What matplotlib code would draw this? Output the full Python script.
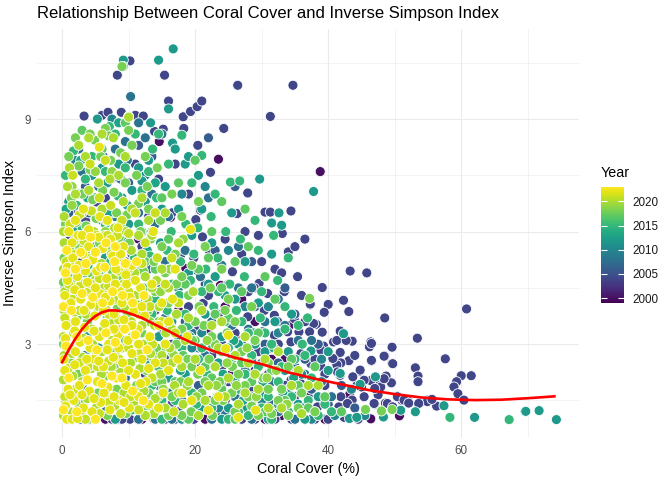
import numpy as np
import matplotlib.pyplot as plt
from matplotlib.colors import Normalize
from matplotlib.colorbar import ColorbarBase

plt.rcParams['font.family'] = ['Liberation Sans', 'DejaVu Sans']

# points, grouped by survey year: (coral cover %, inverse simpson)
pts_2000 = [(23.5, 7.93), (38.8, 7.6), (14.6, 8.4), (8.0, 7.45), (16.3, 6.38), (18.6, 5.02),
            (23.8, 4.57), (46.4, 1.01), (50.7, 1.09), (43.2, 1.65), (28.0, 2.9), (25.5, 2.2),
            (33.0, 1.1), (36.4, 1.8), (30.5, 1.0), (20.2, 2.4), (17.5, 3.9), (22.0, 3.4),
            (27.0, 4.2), (13.0, 3.6), (31.5, 2.6), (39.5, 1.0), (10.5, 6.6), (34.2, 3.5),
            (12.0, 1.0), (6.5, 1.0), (21.5, 1.0), (29.0, 3.6), (24.5, 1.5), (19.0, 3.0),
            (14.0, 2.6), (21.0, 1.4), (26.0, 3.2), (33.5, 2.6), (36.0, 3.0), (28.5, 1.5),
            (18.0, 1.0), (24.5, 4.0), (11.5, 5.8), (8.5, 1.0)]

pts_2004 = [(3.3, 9.08), (6.0, 9.1), (6.9, 9.18), (8.9, 9.18), (11.0, 9.1), (12.2, 9.08),
            (8.3, 10.17), (10.2, 10.55), (15.4, 10.17), (16.0, 9.48), (18.2, 9.06), (19.3, 9.2),
            (20.3, 9.33), (21.0, 9.48), (26.4, 9.9), (34.7, 9.9), (31.3, 9.07), (24.3, 8.75),
            (13.9, 8.67), (15.2, 8.73), (18.3, 8.75), (20.4, 8.3), (22.3, 7.58), (27.9, 7.03),
            (30.5, 6.52), (31.3, 6.52), (34.4, 6.55), (33.1, 5.95), (43.3, 4.95), (45.8, 4.9),
            (39.1, 4.51), (42.3, 4.17), (40.0, 4.06), (43.1, 3.87), (39.4, 3.85), (37.3, 4.05),
            (48.5, 3.7), (60.8, 3.94), (53.4, 3.16), (57.6, 2.61), (38.2, 3.53), (39.1, 3.32),
            (41.8, 3.35), (43.6, 3.08), (40.8, 3.06), (39.3, 2.95), (46.4, 3.06), (46.2, 2.93),
            (49.6, 2.92), (48.5, 2.69), (46.5, 2.55), (49.6, 2.49), (41.2, 2.62), (43.1, 2.56),
            (41.9, 2.5), (38.9, 2.41), (44.8, 2.28), (48.7, 2.15), (49.5, 1.97), (53.1, 2.37),
            (53.5, 2.15), (53.5, 2.0), (60.0, 2.16), (61.5, 2.16), (59.3, 2.0), (58.9, 1.86),
            (59.5, 1.68), (60.4, 1.51), (56.3, 1.35), (53.8, 1.43), (52.0, 1.48), (50.5, 1.6),
            (51.1, 1.5), (55.0, 1.51), (48.6, 1.43), (47.0, 1.4), (47.5, 1.65), (45.0, 1.86),
            (41.6, 1.33), (43.6, 1.51), (45.4, 1.6), (46.9, 1.42), (48.9, 1.42), (50.4, 1.6),
            (51.4, 1.51), (52.1, 1.43), (41.9, 1.6), (44.3, 1.9), (47.5, 1.9), (41.8, 2.17),
            (41.3, 2.45), (44.8, 2.31), (41.8, 2.78), (41.3, 3.1), (46.4, 2.03), (47.9, 1.86),
            (54.9, 1.47), (55.6, 1.53), (53.6, 1.42), (42.4, 1.05), (35.4, 4.8), (34.0, 5.46),
            (29.6, 4.62), (28.9, 4.5), (30.9, 4.35), (33.4, 4.4), (37.3, 4.07), (37.8, 3.55),
            (34.9, 3.68), (33.9, 3.33), (35.6, 3.33), (37.2, 3.33), (30.4, 3.9), (31.9, 3.77),
            (32.4, 3.6), (27.9, 3.73), (30.1, 3.33), (31.9, 3.24), (31.1, 2.88), (34.4, 3.06),
            (35.9, 2.75), (38.9, 2.84), (40.7, 2.62), (37.4, 2.48), (42.7, 3.1), (46.5, 3.02),
            (46.5, 2.57), (48.4, 2.68), (49.7, 2.48), (41.4, 2.26), (43.7, 2.13), (45.4, 2.04),
            (48.4, 2.08), (47.0, 1.82), (34.4, 2.04), (35.9, 1.95), (33.9, 1.51), (35.9, 1.24),
            (38.4, 1.33), (41.4, 1.15), (42.9, 1.42), (49.7, 1.33), (32.9, 1.28), (28.4, 1.77),
            (30.9, 1.82), (26.8, 1.24), (23.8, 1.06), (5.2, 6.79), (7.5, 7.42), (2.2, 7.02),
            (20.1, 6.32), (20.8, 6.57), (16.5, 6.5), (26.3, 6.48), (21.1, 5.86), (22.1, 5.5),
            (20.3, 4.97), (25.6, 4.93), (0.45, 4.53), (4.2, 1.0), (10.2, 1.0), (17.8, 5.37),
            (19.8, 5.3), (21.2, 4.09), (23.0, 3.0), (1.2, 5.87), (13.8, 1.0), (19.8, 1.0),
            (27.0, 1.0), (34.5, 1.0), (38.0, 1.0), (15.0, 3.3), (18.0, 2.0), (24.0, 2.4),
            (26.0, 3.3), (29.0, 2.3), (32.0, 5.0), (36.5, 5.8), (24.5, 5.8), (9.5, 5.2),
            (27.0, 5.4), (29.5, 5.9), (36.0, 4.3), (13.0, 6.4), (3.5, 6.3), (16.5, 1.4),
            (22.5, 2.7), (37.0, 1.6), (39.5, 1.9), (44.0, 2.7), (28.0, 1.1), (31.0, 1.55),
            (12.5, 2.2), (14.0, 3.9), (16.0, 2.6), (17.5, 1.2), (19.0, 4.0), (20.5, 3.4),
            (22.0, 1.5), (23.5, 3.8), (25.0, 2.0), (26.5, 2.6), (28.0, 4.4), (29.5, 2.8),
            (31.0, 2.2), (32.5, 3.0), (33.5, 1.9), (35.0, 1.6), (36.5, 3.6), (38.0, 2.6),
            (39.5, 2.2), (40.5, 1.2), (22.0, 4.3), (25.0, 4.6), (27.5, 6.0), (30.0, 5.2),
            (33.0, 4.9), (35.0, 5.6), (11.0, 7.8), (14.5, 7.4), (17.0, 7.8), (19.0, 7.0),
            (12.0, 5.6), (2.0, 6.6), (0.5, 5.3), (6.5, 6.9), (3.0, 5.2), (25.5, 1.05),
            (29.0, 1.0), (32.0, 1.0), (36.5, 1.0), (40.0, 1.0), (44.5, 1.0), (7.5, 1.0),
            (15.5, 1.0), (9.0, 1.0), (17.0, 1.0)]

pts_2006 = [(13.5, 2.9), (15.0, 4.5), (16.5, 3.0), (18.5, 3.6), (20.5, 1.9), (21.5, 4.6),
            (23.0, 5.5), (24.0, 3.0), (25.5, 2.5), (27.0, 3.0), (28.0, 1.4), (29.0, 4.0),
            (30.5, 3.0), (31.5, 1.4), (32.5, 2.5), (33.5, 4.5), (35.0, 3.8), (36.5, 2.6),
            (37.5, 1.8), (38.5, 3.0), (40.0, 1.4), (42.0, 1.9), (44.0, 1.3), (10.0, 7.3),
            (13.5, 8.0), (3.5, 7.2), (1.0, 6.5), (6.5, 7.9), (11.5, 8.3), (26.0, 7.2),
            (28.5, 5.2), (22.0, 8.5)]

pts_2008 = [(2.5, 5.5), (4.0, 6.5), (5.5, 7.2), (7.0, 6.0), (8.8, 7.4), (10.5, 4.0),
            (12.0, 6.0), (13.5, 7.0), (14.5, 4.6), (16.0, 6.4), (17.0, 2.6), (18.5, 5.5),
            (19.5, 3.3), (20.8, 4.8), (22.0, 6.9), (23.0, 2.0), (24.0, 5.1), (25.5, 3.5),
            (26.5, 5.6), (27.5, 2.3), (28.5, 4.5), (29.5, 1.2), (30.5, 3.6), (31.5, 2.0),
            (32.5, 4.2), (34.0, 1.5), (35.5, 3.1), (36.5, 2.2), (38.0, 1.2), (40.5, 1.6),
            (3.0, 1.9), (6.5, 1.2), (9.5, 2.1), (12.5, 1.3), (14.5, 1.9), (0.8, 1.0),
            (2.7, 1.0), (8.0, 8.2), (11.5, 8.9), (15.0, 8.6), (10.3, 9.6), (5.0, 1.0),
            (11.5, 1.0), (16.5, 1.0), (1.7, 6.06), (3.0, 7.6), (6.2, 8.0), (9.8, 7.9),
            (15.5, 5.2), (17.5, 4.1), (21.5, 2.7), (24.5, 1.2), (26.5, 4.5), (13.0, 5.0),
            (13.0, 2.6), (15.5, 3.7), (18.0, 1.5), (20.5, 2.9), (22.5, 3.6), (24.5, 2.8),
            (26.0, 1.6), (28.0, 3.4), (30.0, 2.5), (32.5, 1.2), (33.5, 3.5), (35.0, 2.4),
            (37.5, 3.1), (39.0, 2.0), (3.5, 5.8), (6.0, 5.0), (8.0, 6.4), (10.5, 5.4),
            (11.5, 6.5), (14.0, 6.2), (1.5, 4.5), (0.5, 3.0), (2.5, 8.2), (7.0, 8.7),
            (9.5, 8.4), (12.5, 8.5), (14.0, 1.0), (22.5, 1.0), (28.5, 1.0), (35.0, 1.0)]

pts_2010 = [(1.0, 2.2), (3.5, 2.7), (14.5, 2.7), (16.0, 1.7), (17.5, 4.5), (19.5, 2.9),
            (21.0, 3.3), (23.5, 1.3), (25.0, 5.5), (27.5, 4.0), (28.5, 2.6), (30.0, 1.5),
            (31.0, 4.0), (32.5, 3.3), (34.0, 1.8), (36.0, 2.2), (37.5, 1.0), (39.0, 2.6),
            (41.0, 1.1), (43.5, 1.8), (45.5, 1.1), (6.0, 6.3), (9.0, 6.9), (12.5, 7.5),
            (2.0, 7.9), (18.0, 7.0), (21.5, 7.2), (7.5, 9.0)]

pts_2012 = [(1.5, 1.6), (3.5, 2.1), (5.5, 2.9), (6.5, 5.3), (8.5, 4.6), (10.0, 6.2),
            (11.5, 5.0), (12.5, 6.8), (13.5, 3.0), (14.8, 5.7), (15.5, 7.2), (16.5, 3.6),
            (17.5, 6.6), (18.5, 2.2), (19.0, 4.9), (20.5, 7.5), (21.5, 3.8), (22.5, 5.7),
            (23.5, 2.5), (24.5, 4.3), (25.5, 6.5), (26.5, 3.0), (27.5, 5.2), (28.5, 1.6),
            (29.5, 4.1), (30.5, 2.8), (31.5, 5.4), (31.5, 6.23), (33.0, 6.17), (32.6, 6.5),
            (37.8, 7.07), (29.7, 7.4), (13.3, 8.9), (16.6, 8.36), (16.0, 9.27), (14.5, 10.57),
            (16.7, 10.87), (9.2, 10.57), (5.3, 9.0), (33.5, 2.3), (34.5, 3.8), (36.0, 1.8),
            (37.4, 2.82), (40.0, 2.8), (42.3, 3.28), (41.8, 2.22), (47.1, 2.13), (44.8, 1.93),
            (43.2, 1.02), (44.3, 1.05), (48.3, 1.06), (50.9, 1.24), (53.1, 1.2), (57.4, 1.36),
            (62.0, 1.05), (69.6, 1.21), (69.7, 1.21), (71.7, 1.23), (74.3, 0.99), (2.2, 6.1),
            (4.5, 7.5), (6.0, 7.7), (11.5, 7.7), (13.0, 7.9), (12.0, 7.35), (18.5, 7.8),
            (16.0, 5.0), (19.5, 5.9), (21.0, 6.6), (23.0, 4.8), (8.0, 1.0), (18.0, 1.0),
            (24.0, 1.0), (31.0, 1.0), (36.5, 1.0), (20.0, 1.6), (26.0, 2.0), (12.5, 4.2),
            (9.0, 5.8), (3.5, 4.9), (1.0, 6.8), (7.5, 6.5), (25.0, 1.3), (32.5, 1.4),
            (12.5, 1.6), (14.5, 3.2), (16.0, 2.1), (17.5, 3.2), (19.5, 2.5), (21.0, 1.3),
            (22.0, 4.6), (24.0, 3.2), (26.0, 4.2), (27.5, 1.3), (29.0, 3.0), (30.5, 1.7),
            (32.0, 3.6), (34.0, 2.8), (35.5, 1.4), (38.5, 1.6), (40.0, 2.3), (0.5, 6.0),
            (2.5, 7.0), (5.0, 5.6), (6.8, 7.3), (8.5, 7.8), (10.5, 7.1), (13.5, 6.0),
            (15.0, 6.6), (17.0, 8.2), (19.0, 8.0), (1.0, 4.0), (4.0, 3.3)]

pts_2013 = [(13.2, 2.45), (15.8, 1.25), (17.8, 2.3), (19.2, 3.2), (21.2, 2.2), (22.8, 2.9),
            (24.2, 2.2), (25.8, 3.1), (27.2, 1.5), (28.8, 3.3), (30.2, 2.0), (31.8, 2.9),
            (33.2, 1.7), (34.8, 2.1), (36.2, 1.3), (0.6, 6.6), (3.8, 6.9), (7.0, 6.5),
            (9.8, 6.7), (12.8, 5.5), (14.0, 7.3), (2.8, 7.9), (8.5, 8.9)]

pts_2015 = [(2.0, 1.2), (4.8, 1.1), (7.5, 1.5), (10.5, 1.25), (13.5, 1.9), (15.0, 1.0),
            (17.0, 1.5), (18.5, 1.05), (20.2, 1.4), (21.8, 2.2), (23.3, 1.6), (25.0, 1.0),
            (26.6, 1.8), (28.0, 1.1), (29.5, 2.4), (31.0, 1.6), (32.5, 2.0), (34.0, 1.2),
            (36.5, 2.7), (37.0, 1.5), (39.5, 1.4), (2.8, 4.3), (6.0, 4.4), (9.5, 4.5),
            (12.2, 4.5), (14.0, 4.2), (15.8, 3.9), (17.6, 4.3), (19.3, 4.7), (21.0, 4.4),
            (22.8, 4.0), (24.5, 3.6), (26.2, 3.9), (28.0, 3.3), (29.8, 3.7), (31.5, 3.0),
            (33.5, 3.4), (35.0, 2.6), (1.0, 5.0), (3.9, 5.1), (7.3, 5.2), (10.9, 5.3),
            (13.2, 5.35), (15.8, 5.5), (17.8, 5.2), (19.8, 5.4), (21.6, 5.0), (23.4, 5.3),
            (25.2, 4.6), (27.4, 4.8), (30.0, 4.4), (32.4, 4.7), (36.9, 3.7), (2.2, 6.7),
            (5.0, 6.9), (8.4, 6.95), (12.0, 7.1), (14.2, 6.9), (16.4, 6.0), (18.6, 6.2),
            (20.4, 6.1), (22.4, 6.4), (24.6, 6.0), (26.8, 5.8), (29.5, 5.5), (31.8, 5.9),
            (34.0, 5.3), (1.7, 8.15), (4.5, 8.0), (7.1, 8.8), (9.2, 10.4), (11.0, 8.6),
            (13.6, 8.2), (16.0, 7.8), (18.0, 8.57), (21.0, 8.03), (25.3, 7.32), (26.7, 7.35),
            (19.5, 7.3), (23.0, 7.0), (29.0, 6.3), (33.5, 4.0), (36.1, 3.0), (58.3, 1.05),
            (67.2, 0.99), (16.5, 2.8), (19.0, 3.5), (22.5, 3.0), (25.5, 2.6), (27.5, 2.2),
            (30.0, 1.3), (14.5, 2.4), (18.0, 2.9), (24.0, 2.0), (20.5, 2.6), (11.5, 3.4),
            (12.5, 3.0), (13.5, 3.8), (15.0, 1.5), (16.5, 4.6), (18.5, 3.8), (19.5, 1.7),
            (21.0, 2.9), (22.5, 1.3), (23.5, 4.4), (25.0, 2.9), (26.5, 1.2), (27.0, 3.6),
            (28.5, 2.7), (30.5, 3.3), (31.5, 1.0), (33.0, 2.4), (34.5, 1.6), (35.5, 3.5),
            (37.5, 2.1), (38.5, 1.1), (40.5, 1.2), (3.0, 6.1), (6.5, 6.2), (9.0, 6.4),
            (11.5, 6.2), (0.5, 7.5), (3.5, 7.4), (6.5, 7.6), (9.5, 7.7), (13.0, 7.6),
            (14.5, 8.6), (8.0, 8.6), (2.0, 5.7), (5.5, 4.9), (10.0, 4.7)]

pts_2017 = [(13.0, 1.3), (14.0, 2.0), (15.5, 2.9), (17.0, 2.0), (18.2, 2.7), (19.0, 1.0),
            (20.0, 3.1), (21.5, 2.4), (22.5, 2.1), (23.0, 3.8), (24.0, 1.8), (25.0, 3.7),
            (26.0, 1.0), (27.0, 2.5), (27.0, 4.4), (28.5, 2.0), (29.5, 3.3), (30.5, 1.2),
            (31.5, 2.3), (32.0, 4.2), (33.5, 1.5), (34.5, 2.6), (35.5, 1.9), (37.0, 1.3),
            (38.0, 2.4), (39.5, 1.6), (42.0, 1.2), (14.0, 5.0), (16.0, 5.8), (18.5, 4.6),
            (20.5, 5.0), (22.0, 5.3), (24.0, 4.5), (26.0, 5.2), (28.0, 5.6), (30.5, 4.8),
            (12.5, 5.2), (11.0, 4.0), (9.5, 3.1), (8.0, 2.4), (15.0, 6.9), (17.5, 7.3),
            (20.0, 7.9), (22.5, 6.0), (24.0, 6.8), (27.5, 6.6), (3.0, 8.7), (6.0, 8.2),
            (9.5, 8.9)]

pts_2018 = [(1.0, 1.05), (2.5, 1.4), (4.0, 1.0), (5.4, 1.7), (6.8, 1.1), (8.2, 1.8),
            (9.6, 1.15), (11.2, 1.9), (12.8, 1.1), (14.4, 1.6), (16.0, 1.1), (17.8, 2.0),
            (19.4, 1.2), (21.0, 1.7), (22.6, 1.1), (24.2, 1.5), (26.0, 1.2), (28.5, 1.35),
            (31.5, 1.15), (35.5, 1.3), (38.0, 1.2), (1.3, 2.5), (2.4, 2.2), (3.9, 2.6),
            (5.2, 2.75), (6.6, 2.15), (8.0, 2.8), (9.4, 2.45), (11.1, 2.65), (12.7, 2.3),
            (14.2, 2.9), (15.7, 2.45), (17.2, 3.0), (18.9, 2.6), (20.4, 2.2), (22.1, 2.6),
            (23.7, 2.0), (25.6, 2.4), (27.5, 1.9), (30.2, 2.1), (33.0, 1.8), (0.9, 3.55),
            (2.3, 3.75), (3.8, 3.6), (5.4, 3.85), (6.8, 3.7), (8.3, 3.95), (9.8, 3.8),
            (11.3, 4.05), (12.9, 3.9), (14.5, 3.6), (16.2, 3.5), (18.0, 3.4), (19.6, 3.1),
            (21.3, 3.5), (23.0, 3.0), (24.8, 3.3), (27.0, 2.8), (0.2, 4.65), (1.6, 4.75),
            (3.1, 4.6), (4.5, 4.85), (6.0, 4.7), (7.5, 4.95), (9.0, 4.8), (10.6, 5.1),
            (12.2, 4.95), (13.8, 5.2), (15.5, 4.9), (17.2, 4.6), (19.0, 4.3), (20.6, 4.0),
            (22.3, 4.5), (24.5, 3.9), (1.1, 5.55), (2.6, 5.6), (4.1, 5.45), (5.6, 5.7),
            (7.1, 5.6), (8.6, 5.85), (10.1, 5.7), (11.8, 6.0), (13.3, 5.8), (15.0, 5.6),
            (17.0, 5.4), (19.5, 5.1), (21.5, 5.6), (24.0, 5.0), (0.5, 6.2), (2.1, 6.25),
            (3.6, 6.15), (5.1, 6.35), (6.6, 6.3), (8.2, 6.5), (9.8, 6.45), (11.5, 6.75),
            (13.0, 6.6), (14.8, 6.3), (16.5, 7.0), (18.0, 6.4), (20.5, 6.8), (1.4, 6.9),
            (3.0, 7.0), (4.6, 6.85), (6.1, 7.1), (7.8, 7.05), (9.5, 7.3), (11.2, 7.5),
            (12.8, 7.2), (14.3, 7.7), (2.5, 7.75), (4.2, 7.65), (5.8, 8.0), (7.3, 7.9),
            (8.8, 8.1), (10.5, 8.3), (12.5, 8.0), (4.9, 8.44), (4.2, 8.6), (6.5, 8.75),
            (7.0, 8.55), (9.0, 10.4), (10.0, 9.07), (45.6, 1.26), (48.0, 1.22), (49.6, 1.26),
            (37.2, 4.22), (29.0, 3.1), (31.0, 2.5), (26.0, 3.6), (28.5, 4.0), (34.0, 2.4),
            (13.0, 1.7), (15.0, 2.0), (16.5, 1.6), (18.0, 1.1), (19.5, 2.4), (21.5, 2.0),
            (23.0, 1.5), (24.0, 2.8), (25.5, 1.7), (26.5, 2.2), (28.0, 1.6), (29.5, 1.1),
            (31.0, 1.8), (32.5, 1.5), (34.0, 1.1), (36.0, 1.7), (20.0, 3.6), (22.5, 3.2),
            (25.0, 4.2), (18.0, 4.8), (16.0, 4.1), (14.0, 4.4), (12.0, 3.3), (0.5, 1.5),
            (3.5, 1.5), (0.2, 3.0), (0.3, 5.3), (2.0, 8.5), (10.0, 8.7), (1.0, 8.0)]

pts_2019 = [(13.8, 2.6), (15.2, 1.8), (16.8, 2.7), (18.8, 1.9), (20.2, 1.6), (21.8, 3.1),
            (23.2, 1.9), (24.8, 2.5), (26.2, 1.9), (27.8, 2.9), (29.2, 1.6), (30.8, 2.1),
            (32.2, 2.3), (33.8, 1.4), (13.2, 3.6), (14.8, 4.4), (16.2, 5.0), (18.2, 5.8),
            (1.5, 6.7), (3.8, 6.0), (6.5, 6.0), (8.8, 6.2), (1.5, 7.2), (5.0, 7.6),
            (7.5, 7.6)]

pts_2020 = [(0.2, 1.1), (1.2, 1.2), (2.9, 1.1), (3.8, 1.55), (5.1, 1.3), (6.5, 1.6),
            (7.9, 1.35), (9.3, 1.7), (10.8, 1.45), (12.3, 1.75), (13.8, 1.15), (15.5, 1.3),
            (16.9, 1.9), (18.2, 1.4), (0.2, 2.05), (1.6, 2.15), (3.0, 2.0), (4.4, 2.35),
            (5.9, 2.2), (7.4, 2.4), (8.8, 2.25), (10.3, 2.5), (11.7, 2.35), (13.3, 2.75),
            (14.8, 2.2), (16.2, 2.9), (18.0, 2.4), (0.3, 2.7), (1.5, 2.75), (3.1, 2.65),
            (4.6, 3.0), (6.0, 2.8), (7.5, 3.1), (9.0, 2.9), (10.5, 3.2), (12.1, 3.0),
            (13.9, 3.5), (15.6, 3.3), (17.2, 3.8), (0.2, 3.2), (1.7, 3.3), (3.2, 3.15),
            (4.5, 3.4), (6.0, 3.35), (7.4, 3.55), (8.9, 3.4), (10.4, 3.6), (12.0, 3.5),
            (14.6, 4.0), (0.3, 3.9), (1.9, 3.85), (3.6, 3.8), (5.0, 4.1), (6.5, 3.95),
            (8.0, 4.2), (9.5, 4.0), (11.0, 4.3), (12.8, 4.2), (14.2, 4.7), (16.0, 4.5),
            (0.4, 4.4), (1.9, 4.5), (3.3, 4.4), (4.9, 4.7), (6.3, 4.5), (7.7, 4.75),
            (9.2, 4.6), (10.9, 4.9), (12.5, 4.8), (0.2, 5.0), (1.5, 5.1), (3.0, 4.95),
            (4.4, 5.3), (5.9, 5.15), (7.4, 5.4), (8.9, 5.25), (10.4, 5.5), (12.0, 5.4),
            (13.5, 5.9), (0.3, 5.7), (1.8, 5.75), (3.4, 5.6), (4.8, 6.0), (6.4, 5.9),
            (7.9, 6.1), (9.6, 6.0), (0.3, 6.4), (3.0, 6.5), (6.0, 6.6), (9.2, 6.8),
            (0.8, 7.2), (4.0, 7.1), (7.2, 7.4), (1.1, 7.7), (3.5, 8.0), (7.7, 8.5),
            (10.0, 9.05), (14.0, 1.55), (16.5, 2.5), (19.0, 2.0), (20.5, 1.1), (22.0, 1.9),
            (23.5, 2.9), (25.0, 2.1), (26.5, 1.4), (28.0, 2.5), (29.5, 1.8), (31.0, 1.3),
            (32.5, 2.8), (34.5, 1.9), (36.0, 1.15), (38.5, 1.9), (24.0, 3.6), (27.5, 3.2),
            (21.0, 3.9), (19.7, 4.4), (17.5, 5.7), (12.5, 1.1), (15.0, 2.7), (17.5, 1.7),
            (18.5, 3.1), (20.0, 2.6), (21.5, 1.5), (23.0, 2.4), (24.5, 1.6), (26.0, 2.7),
            (27.5, 1.7), (29.0, 2.2), (30.5, 2.6), (33.0, 1.3), (35.5, 2.3), (37.0, 1.9),
            (13.5, 4.5), (15.0, 5.0), (16.5, 3.4), (19.0, 3.7), (22.5, 3.5), (11.5, 5.9),
            (13.0, 6.3), (10.5, 6.6), (12.0, 6.9), (2.0, 7.0), (5.5, 7.3), (8.5, 7.5),
            (2.5, 8.3), (6.0, 8.6), (4.0, 8.5), (15.5, 6.5), (9.5, 8.0), (0.2, 6.0)]

pts_2021 = [(0.4, 1.6), (2.0, 1.8), (3.5, 1.0), (5.6, 1.15), (7.0, 1.45), (8.8, 1.15),
            (10.3, 1.6), (11.5, 1.25), (13.5, 2.1), (15.2, 2.5), (16.8, 1.2), (0.9, 2.35),
            (2.6, 2.5), (4.0, 2.4), (5.3, 2.4), (7.0, 2.55), (8.6, 2.6), (10.0, 2.9),
            (11.6, 2.75), (13.6, 3.0), (15.0, 3.6), (17.0, 3.3), (0.4, 3.7), (1.5, 4.2),
            (2.6, 3.9), (4.0, 4.4), (5.5, 4.0), (7.0, 3.8), (8.5, 3.65), (10.0, 4.4),
            (11.6, 3.8), (13.2, 4.0), (15.5, 4.6), (17.5, 4.1), (1.0, 4.6), (2.7, 4.55),
            (4.4, 4.6), (5.6, 4.75), (7.0, 4.55), (8.5, 4.95), (10.0, 5.0), (12.0, 5.15),
            (14.3, 5.3), (16.5, 5.3), (0.6, 5.2), (2.0, 5.4), (3.3, 5.75), (5.2, 5.9),
            (6.8, 5.9), (8.3, 5.9), (10.0, 5.95), (12.5, 5.7), (14.0, 6.5), (1.2, 6.2),
            (2.6, 6.45), (4.4, 6.55), (5.6, 6.9), (7.3, 6.7), (9.0, 6.3), (11.0, 6.5),
            (1.6, 7.5), (4.2, 7.8), (6.5, 7.9)]

pts_2022 = [(0.7, 1.0), (1.5, 1.0), (2.3, 1.02), (0.5, 1.35), (1.8, 1.5), (3.2, 1.3),
            (4.5, 1.2), (5.8, 1.45), (7.2, 1.25), (8.6, 1.5), (10.1, 1.3), (11.5, 1.6),
            (13.0, 1.4), (0.9, 1.8), (2.6, 1.9), (4.1, 1.75), (5.3, 2.0), (6.9, 1.85),
            (8.2, 2.1), (9.6, 1.9), (11.0, 2.2), (12.6, 2.0), (0.4, 2.3), (1.9, 2.45),
            (3.5, 2.3), (4.8, 2.6), (6.2, 2.4), (7.7, 2.65), (9.1, 2.5), (10.5, 2.75),
            (12.0, 2.6), (14.0, 2.5), (1.1, 2.9), (2.7, 3.05), (4.2, 2.9), (5.6, 3.2),
            (7.0, 3.0), (8.4, 3.25), (9.9, 3.1), (11.4, 3.4), (13.2, 3.2), (0.6, 3.5),
            (2.0, 3.6), (3.4, 3.45), (4.9, 3.75), (6.4, 3.55), (7.8, 3.8), (9.3, 3.65),
            (10.8, 3.9), (12.4, 3.75), (1.3, 4.1), (2.8, 4.2), (4.3, 4.05), (5.7, 4.35),
            (7.2, 4.15), (8.7, 4.4), (10.2, 4.25), (11.8, 4.5), (0.8, 4.7), (2.3, 4.8),
            (3.8, 4.65), (5.2, 4.95), (6.7, 4.75), (8.1, 5.0), (9.6, 4.85), (1.6, 5.3),
            (3.1, 5.4), (4.6, 5.25), (6.1, 5.55), (7.6, 5.35), (9.2, 5.6), (2.4, 5.9),
            (4.0, 6.05), (5.5, 5.85), (8.4, 6.1), (3.2, 6.6), (5.7, 6.4), (5.6, 8.25),
            (15.2, 1.7), (17.4, 2.6), (19.5, 1.5), (16.6, 4.2), (18.8, 3.2), (25.0, 3.24),
            (22.0, 1.24), (19.3, 6.06), (13.7, 6.0), (20.8, 2.3), (26.5, 1.05), (17.0, 5.0),
            (15.5, 3.0), (23.5, 1.6), (29.1, 1.24), (24.6, 2.88), (1.2, 1.65), (3.0, 1.65),
            (4.8, 1.55), (6.3, 1.7), (7.8, 1.6), (9.3, 1.45), (11.8, 1.95), (0.3, 2.6),
            (2.0, 2.8), (3.7, 2.6), (5.5, 2.55), (6.8, 2.85), (8.5, 2.9), (10.0, 2.3),
            (11.5, 3.0), (13.0, 2.35), (0.5, 3.15), (1.9, 3.35), (3.3, 3.9), (4.8, 3.35),
            (6.2, 3.9), (7.8, 3.4), (9.0, 4.1), (10.5, 3.5), (12.0, 4.0), (0.4, 4.3),
            (1.9, 4.45), (3.5, 4.95), (5.0, 4.5), (6.5, 4.25), (8.0, 4.6), (9.7, 4.6),
            (11.0, 4.7), (0.8, 5.05), (2.5, 5.1), (4.0, 5.6), (5.8, 5.05), (7.3, 5.8),
            (8.8, 5.4), (10.5, 5.1), (1.5, 5.7), (3.0, 5.9), (6.8, 6.3), (2.0, 6.3),
            (1.0, 6.0), (14.5, 1.3), (16.0, 2.3), (18.0, 1.7), (14.5, 3.5), (16.0, 3.6),
            (13.5, 4.6), (15.0, 4.1)]

pts_2023 = [(0.2, 1.25), (1.0, 2.1), (2.2, 1.2), (3.8, 2.05), (5.0, 1.0), (6.0, 1.95),
            (7.5, 2.15), (9.0, 2.1), (10.6, 1.75), (12.2, 1.5), (0.6, 2.95), (2.2, 3.2),
            (3.9, 3.1), (5.2, 2.85), (6.6, 3.3), (8.0, 3.05), (9.4, 3.4), (11.0, 3.25),
            (12.8, 2.85), (0.2, 4.0), (1.4, 3.9), (3.0, 4.35), (4.6, 4.25), (6.1, 4.1),
            (7.6, 4.4), (9.1, 4.3), (10.6, 4.1), (12.3, 4.3), (0.5, 4.9), (2.0, 5.0),
            (3.6, 5.15), (5.0, 5.45), (6.4, 5.05), (7.9, 5.2), (9.5, 5.15), (11.2, 5.2),
            (0.7, 5.5), (2.8, 5.45), (4.3, 5.85), (6.6, 5.7), (8.0, 5.6)]

point_groups = [(2000, pts_2000), (2004, pts_2004), (2006, pts_2006), (2008, pts_2008),
                (2010, pts_2010), (2012, pts_2012), (2013, pts_2013), (2015, pts_2015),
                (2017, pts_2017), (2018, pts_2018), (2019, pts_2019), (2020, pts_2020),
                (2021, pts_2021), (2022, pts_2022), (2023, pts_2023)]

# smoothed trend line
smooth_cover = [0, 1, 2, 3, 4, 5, 6, 7, 8, 9, 10, 12, 14, 16, 18, 20, 23, 26, 30, 34,
                38, 42, 46, 50, 54, 58, 62, 66, 70, 74]
smooth_simpson = [2.52, 2.85, 3.15, 3.4, 3.6, 3.75, 3.85, 3.9, 3.9, 3.88, 3.83, 3.7, 3.52,
                  3.35, 3.16, 3.0, 2.8, 2.64, 2.47, 2.25, 2.08, 1.93, 1.78, 1.67, 1.58,
                  1.53, 1.51, 1.52, 1.56, 1.61]

year_min, year_max = 1999, 2023

fig = plt.figure(figsize=(6.72, 4.8), dpi=100)
ax = fig.add_axes([0.0558, 0.0875, 0.8058, 0.8521])
norm = Normalize(vmin=year_min, vmax=year_max)

for yr, pts in point_groups:
    arr = np.array(pts)
    ax.scatter(arr[:, 0], arr[:, 1], c=[yr] * len(arr), cmap='viridis', norm=norm,
               s=52, edgecolors='white', linewidths=0.6, zorder=2)

ax.plot(smooth_cover, smooth_simpson, color='red', lw=1.9, zorder=3)

ax.set_xlim(-3.7, 77.7)
ax.set_ylim(0.5, 11.4)
ax.set_xticks([0, 20, 40, 60])
ax.set_xticks([10, 30, 50, 70], minor=True)
ax.set_yticks([3, 6, 9])
ax.set_yticks([1.5, 4.5, 7.5, 10.5], minor=True)
ax.grid(which='major', color='#ebebeb', lw=0.8, zorder=0)
ax.grid(which='minor', color='#ebebeb', lw=0.4, zorder=0)
ax.set_axisbelow(True)
for sp in ax.spines.values():
    sp.set_visible(False)
ax.tick_params(which='both', length=0, labelsize=8.4, labelcolor='#4d4d4d', pad=5)

ax.set_xlabel('Coral Cover (%)', fontsize=10.3, labelpad=4)
ax.set_ylabel('Inverse Simpson Index', fontsize=10.3, labelpad=5)
ax.set_title('Relationship Between Coral Cover and Inverse Simpson Index',
             loc='left', fontsize=12.0, pad=8)

cax = fig.add_axes([0.8943, 0.369, 0.0343, 0.2417])
cb = ColorbarBase(cax, cmap='viridis', norm=norm, ticks=[2000, 2005, 2010, 2015, 2020])
cb.outline.set_visible(False)
cax.tick_params(direction='in', color='white', length=4, width=0.8, left=True, right=True,
                labelsize=8.4, labelcolor='#1a1a1a', pad=6)
cax.set_title('Year', loc='left', fontsize=10.3, pad=7)

fig.savefig('out.png', dpi=100)
